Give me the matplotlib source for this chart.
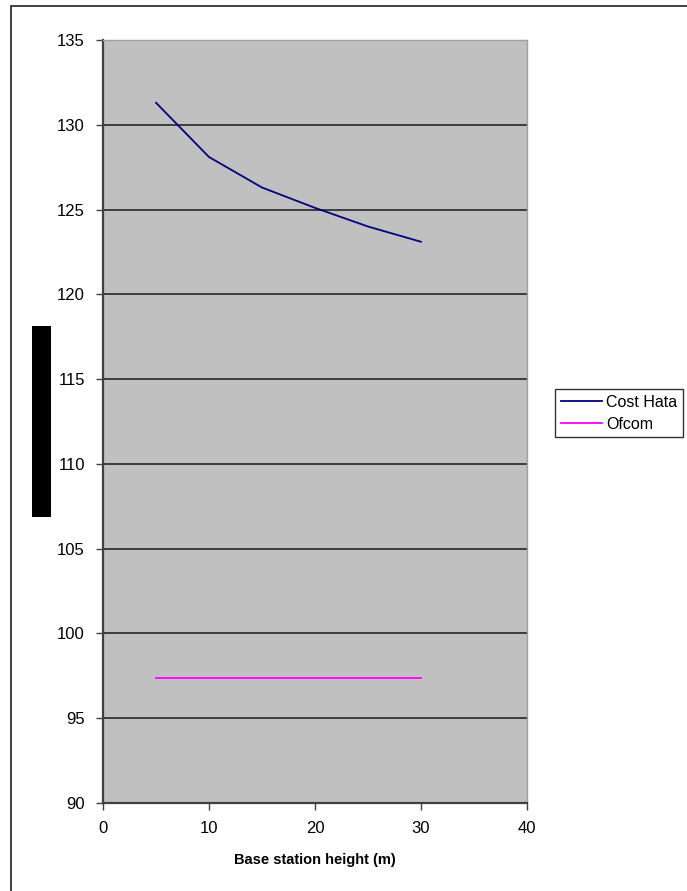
import matplotlib.pyplot as plt
from matplotlib.patches import Rectangle

plt.rcParams['font.family'] = ['Liberation Sans', 'DejaVu Sans']

# Path loss vs base station height
heights = [5, 10, 15, 20, 25, 30]
cost_hata = [131.3, 128.1, 126.3, 125.1, 124.0, 123.1]
ofcom = [97.4, 97.4, 97.4, 97.4, 97.4, 97.4]

x_ticks = [0, 10, 20, 30, 40]
y_ticks = [90, 95, 100, 105, 110, 115, 120, 125, 130, 135]

fig = plt.figure(figsize=(6.87, 8.91), dpi=100)
ax = fig.add_axes([103 / 687, 1 - 803 / 891, 424 / 687, 763 / 891])
ax.set_facecolor('#c0c0c0')

ax.plot(heights, cost_hata, color='#000080', lw=1.3, label='Cost Hata')
ax.plot(heights, ofcom, color='#ff00ff', lw=1.3, label='Ofcom')

ax.set_xlim(0, 40)
ax.set_ylim(90, 135)
ax.set_xticks(x_ticks)
ax.set_yticks(y_ticks)
ax.yaxis.grid(True, color='#1a1a1a', lw=1.1)
ax.set_axisbelow(True)
ax.tick_params(direction='out', length=5, width=1, color='#404040',
               labelsize=12, pad=8)

for side in ['left', 'bottom']:
    ax.spines[side].set_color('#404040')
    ax.spines[side].set_linewidth(1.6)
for side in ['top', 'right']:
    ax.spines[side].set_color('#a0a0a0')
    ax.spines[side].set_linewidth(1)

ax.set_xlabel('Base station height (m)', fontsize=10.5, fontweight='bold',
              labelpad=12)

# outer chart border and the blacked-out axis title
fig.patches.append(Rectangle((11 / 687, -0.01), 0.99, 1 - 6 / 891 + 0.01,
                             transform=fig.transFigure, fill=False,
                             edgecolor='#202020', lw=1.2))
fig.patches.append(Rectangle((32 / 687, 1 - 517 / 891), 19 / 687, 191 / 891,
                             transform=fig.transFigure, facecolor='black',
                             edgecolor='none'))

leg = fig.legend(loc='upper left', bbox_to_anchor=(555 / 687, 1 - 389 / 891),
                 fontsize=11.5, frameon=True, fancybox=False, handlelength=2.6,
                 handletextpad=0.25, borderpad=0.35, labelspacing=0.45,
                 borderaxespad=0)
leg.get_frame().set_edgecolor('black')
leg.get_frame().set_linewidth(1)

fig.savefig('out.png', dpi=100)
